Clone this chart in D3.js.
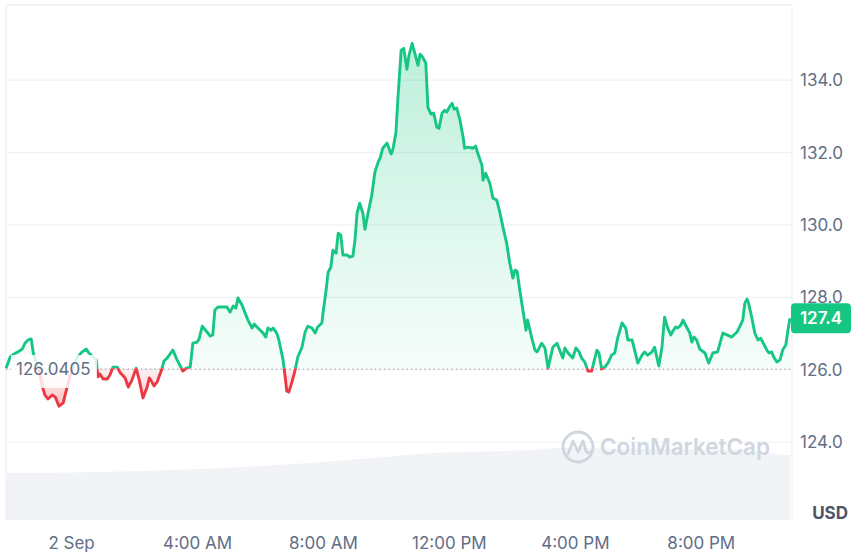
<!DOCTYPE html>
<html><head><meta charset="utf-8">
<script src="https://cdn.jsdelivr.net/npm/d3@7"></script>
<style>html,body{margin:0;padding:0;background:#fff;} svg{display:block;font-family:Inter,"Noto Sans",sans-serif;}</style>
</head><body><svg id="c" width="856" height="552"></svg>
<script>
// minutes relative to 2 Sep 00:00
const priceMinutes=[-124,-116,-109,-101,-93,-88,-82,-76,-72,-67,-61,-55,-50,-44,-36,-30,-23,-15,-10,-4,
4,11,21,29,34,42,48,51,55,61,69,74,80,88,93,103,109,116,124,130,
137,145,149,152,158,164,173,177,183,194,202,208,213,219,227,232,240,244,250,259,
265,270,274,280,290,297,303,309,314,318,326,331,337,345,349,356,366,371,375,381,
385,392,396,404,408,411,415,421,427,432,440,446,451,459,465,470,478,480,486,490,
495,499,505,509,514,518,526,531,537,541,545,550,556,560,566,573,579,585,589,594,
602,610,613,619,623,629,634,640,644,650,655,661,665,670,676,680,686,691,697,701,
707,712,716,722,726,730,735,741,747,750,756,766,771,775,783,785,790,798,804,811,
817,823,830,836,842,846,850,855,861,867,870,878,884,888,897,903,909,918,926,931,
937,941,947,956,962,968,973,979,985,992,1002,1006,1011,1017,1023,1030,1036,1042,1050,1057,
1061,1069,1074,1080,1088,1093,1099,1107,1112,1120,1126,1131,1137,1143,1147,1152,1156,1162,1166,1173,
1179,1183,1187,1192,1198,1208,1215,1223,1232,1242,1250,1259,1269,1274,1280,1284,1288,1291,1297,1303,
1309,1314,1320,1326,1330,1335,1339,1345,1351,1356,1362,1366,1370];
const prices=[126.04,126.35,126.43,126.49,126.57,126.73,126.82,126.85,126.46,126.21,
125.99,125.55,125.30,125.19,125.30,125.24,124.99,125.08,125.38,125.71,
126.10,126.32,126.49,126.57,126.46,126.35,126.27,125.80,125.88,125.74,
125.74,125.85,126.07,126.07,125.93,125.77,125.52,125.71,126.04,125.71,
125.22,125.52,125.77,125.71,125.55,125.66,126.02,126.24,126.32,126.54,
126.27,126.10,125.96,126.04,126.07,126.73,126.76,126.85,127.20,127.04,
126.93,126.96,127.65,127.73,127.73,127.73,127.59,127.76,127.70,127.98,
127.78,127.59,127.37,127.15,127.26,127.15,127.01,126.90,127.15,127.09,
127.15,127.01,126.82,126.27,125.80,125.41,125.38,125.66,125.99,126.35,
126.62,127.04,127.20,127.15,127.01,127.18,127.29,127.56,128.20,128.70,
128.83,129.30,129.22,129.77,129.72,129.17,129.17,129.11,129.14,129.58,
130.33,130.60,130.33,129.88,130.33,130.82,131.46,131.73,
131.85,132.12,132.26,131.96,132.07,132.54,133.53,134.83,134.88,134.30,
134.69,135.02,134.75,134.41,134.72,134.64,134.47,133.25,133.06,133.09,
132.70,132.67,133.09,133.17,133.12,133.28,133.36,133.20,133.23,132.90,
132.43,132.12,132.15,132.12,132.18,131.98,131.65,131.24,131.43,131.15,
130.74,130.69,130.35,129.94,129.50,128.94,128.53,128.75,128.72,128.20,
127.65,127.09,127.37,126.87,126.54,126.49,126.73,126.60,126.04,126.62,
126.73,126.54,126.32,126.60,126.46,126.32,126.60,126.49,126.32,126.21,
125.96,125.96,126.54,126.46,126.02,126.07,126.18,126.40,126.46,126.90,
127.29,127.15,126.82,126.82,126.54,126.18,126.40,126.49,126.40,126.49,
126.62,126.10,126.62,127.45,127.15,126.96,127.07,127.18,127.15,127.23,
127.37,127.18,127.01,126.76,126.90,126.82,126.57,126.46,126.18,126.46,
126.49,127.01,126.96,126.90,127.04,127.18,127.37,127.84,127.95,127.84,
127.45,127.01,126.82,126.87,126.71,126.54,126.46,126.49,126.35,126.21,
126.27,126.54,126.68,127.09,127.42];
const baselinePrice=126.0405;
const lastPriceLabel="127.4";
const volMinutes=[-124,55,246,455,575,690,880,931,1103,1293,1360,1370];
const volumes=[47,48,51,57,62,67,70,72,71,70,65,65];
const yTicks=[124,126,128,130,132,134];
const xTickMinutes=[0,240,480,720,960,1200];
const xTickLabels=["2 Sep","4:00 AM","8:00 AM","12:00 PM","4:00 PM","8:00 PM"];
const unitLabel="USD";
const brandLabel="CoinMarketCap";

const GREEN="#16c784", RED="#ea3943", TXT="#616e85", GRID="#eff2f5", FS=17;
const day0=new Date(2024,8,2,0,0);
const tm=m=>new Date(day0.getTime()+m*60000);
const x=d3.scaleTime().domain([tm(-124),tm(1370)]).range([6,790]);
const y=d3.scaleLinear().domain([124,134]).range([442,80.2]);
const yv=d3.scaleLinear().domain([0,100]).range([520,420]);
const L=6,R=792,T=5,B=520;

const data=priceMinutes.map((m,i)=>({t:tm(m),v:prices[i]}));
const vol=volMinutes.map((m,i)=>({t:tm(m),v:volumes[i]}));
const yb=y(baselinePrice);

const svg=d3.select("#c");
const defs=svg.append("defs");
const gg=defs.append("linearGradient").attr("id","gG").attr("gradientUnits","userSpaceOnUse").attr("x1",0).attr("x2",0).attr("y1",y(135)).attr("y2",yb);
gg.append("stop").attr("offset",0).attr("stop-color",GREEN).attr("stop-opacity",0.28);
gg.append("stop").attr("offset",1).attr("stop-color",GREEN).attr("stop-opacity",0.04);
const rg=defs.append("linearGradient").attr("id","rG").attr("gradientUnits","userSpaceOnUse").attr("x1",0).attr("x2",0).attr("y1",yb).attr("y2",y(125));
rg.append("stop").attr("offset",0).attr("stop-color",RED).attr("stop-opacity",0.06);
rg.append("stop").attr("offset",1).attr("stop-color",RED).attr("stop-opacity",0.3);
defs.append("clipPath").attr("id","cA").append("rect").attr("x",0).attr("y",0).attr("width",856).attr("height",yb);
defs.append("clipPath").attr("id","cB").append("rect").attr("x",0).attr("y",yb).attr("width",856).attr("height",552-yb);

// frame & grid
const grid=svg.append("g");
grid.selectAll("line.g").data(yTicks).join("line").attr("x1",L).attr("x2",R).attr("y1",d=>y(d)).attr("y2",d=>y(d)).attr("stroke",GRID).attr("stroke-width",1.2);
grid.append("line").attr("x1",L).attr("x2",R).attr("y1",T).attr("y2",T).attr("stroke","#eceff2").attr("stroke-width",1.5);
grid.append("line").attr("x1",L).attr("x2",L).attr("y1",T).attr("y2",B).attr("stroke","#f0f2f5").attr("stroke-width",1.5);
grid.append("line").attr("x1",R).attr("x2",R).attr("y1",T).attr("y2",B).attr("stroke","#f0f2f5").attr("stroke-width",1.5);

// volume
svg.append("path").datum(vol).attr("fill","#f1f3f6")
  .attr("d",d3.area().x(d=>x(d.t)).y0(yv(0)).y1(d=>yv(d.v)).curve(d3.curveMonotoneX));

// watermark
const wm=svg.append("g");
wm.append("circle").attr("cx",578).attr("cy",447).attr("r",15).attr("fill","none").attr("stroke","#d0d6df").attr("stroke-width",2.8);
wm.append("path").attr("d","M568,454 L573,441 L578,452 L583,441 L586,451 Q588,454 591,452").attr("fill","none").attr("stroke","#d0d6df").attr("stroke-width",2.8).attr("stroke-linejoin","round").attr("stroke-linecap","round");
wm.append("text").attr("x",600).attr("y",455).attr("font-size",22.5).attr("font-weight",600).attr("fill","#d0d6df").text(brandLabel);

// areas
const area=d3.area().x(d=>x(d.t)).y0(yb).y1(d=>y(d.v));
svg.append("path").datum(data).attr("clip-path","url(#cA)").attr("fill","url(#gG)").attr("d",area);
svg.append("path").datum(data).attr("clip-path","url(#cB)").attr("fill","url(#rG)").attr("d",area);

// baseline dotted
svg.append("line").attr("x1",L).attr("x2",R-2).attr("y1",yb+1).attr("y2",yb+1).attr("stroke","#9aa3b1").attr("stroke-width",1.2).attr("stroke-dasharray","1.2,3.3");

// lines
const line=d3.line().x(d=>x(d.t)).y(d=>y(d.v));
svg.append("path").datum(data).attr("clip-path","url(#cA)").attr("fill","none").attr("stroke",GREEN).attr("stroke-width",2.9).attr("stroke-linejoin","round").attr("d",line);
svg.append("path").datum(data).attr("clip-path","url(#cB)").attr("fill","none").attr("stroke",RED).attr("stroke-width",2.9).attr("stroke-linejoin","round").attr("d",line);

// baseline label
svg.append("rect").attr("x",11).attr("y",355).attr("width",86).attr("height",33).attr("fill","#fff").attr("opacity",0.82);
svg.append("text").attr("x",16).attr("y",yb+7).attr("font-size",FS).attr("fill",TXT).text(baselinePrice.toString());

// y axis
const ya=svg.append("g").attr("transform",`translate(${R},0)`)
  .call(d3.axisRight(y).tickValues(yTicks).tickFormat(d3.format(".1f")).tickSize(0).tickPadding(8));
ya.select(".domain").remove();
ya.selectAll("text").attr("font-size",FS).attr("fill",TXT).attr("font-family","Inter,'Noto Sans',sans-serif");

// x axis
const xa=svg.append("g").attr("transform",`translate(0,${B})`)
  .call(d3.axisBottom(x).tickValues(xTickMinutes.map(tm)).tickFormat((d,i)=>xTickLabels[i]).tickSize(0).tickPadding(17));
xa.select(".domain").remove();
xa.selectAll("text").attr("font-size",FS).attr("fill",TXT).attr("font-family","Inter,'Noto Sans',sans-serif");

// unit
svg.append("text").attr("x",848).attr("y",519).attr("text-anchor","end").attr("font-size",FS).attr("font-weight",700).attr("fill","#4d5566").text(unitLabel);

// last price badge
const lp=prices[prices.length-1];
svg.append("rect").attr("x",R-1).attr("y",y(lp)-15).attr("width",60).attr("height",30).attr("rx",4).attr("fill",GREEN);
svg.append("text").attr("x",R+29).attr("y",y(lp)+6).attr("text-anchor","middle").attr("font-size",17).attr("font-weight",600).attr("fill","#fff").text(lastPriceLabel);
</script></body></html>
